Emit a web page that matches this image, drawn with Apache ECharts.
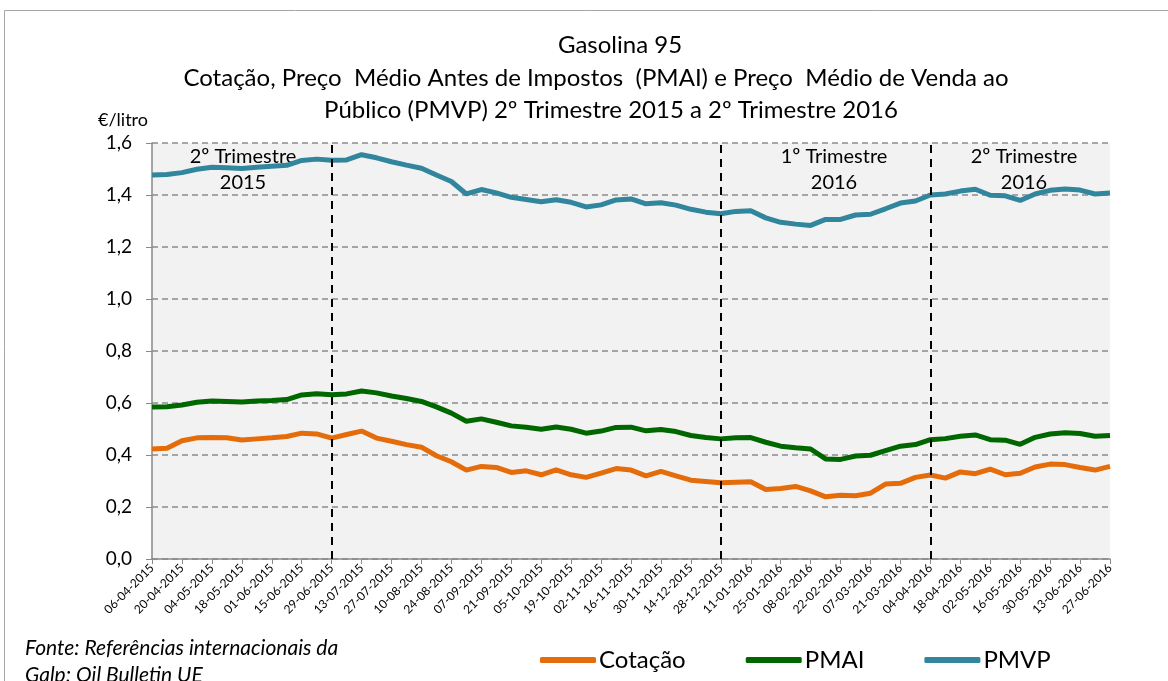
<!DOCTYPE html>
<html>
<head>
<meta charset="utf-8">
<script src="https://cdn.jsdelivr.net/npm/echarts@6/dist/echarts.min.js"></script>
<style>
  html, body { margin: 0; padding: 0; background: #fff; }
  #chart { width: 1168px; height: 681px; }
</style>
</head>
<body>
<div id="chart"></div>
<script>
// semanas (segunda-feira)
const datas = [
  '06-04-2015','13-04-2015','20-04-2015','27-04-2015','04-05-2015','11-05-2015','18-05-2015','25-05-2015',
  '01-06-2015','08-06-2015','15-06-2015','22-06-2015','29-06-2015','06-07-2015','13-07-2015','20-07-2015',
  '27-07-2015','03-08-2015','10-08-2015','17-08-2015','24-08-2015','31-08-2015','07-09-2015','14-09-2015',
  '21-09-2015','28-09-2015','05-10-2015','12-10-2015','19-10-2015','26-10-2015','02-11-2015','09-11-2015',
  '16-11-2015','23-11-2015','30-11-2015','07-12-2015','14-12-2015','21-12-2015','28-12-2015','04-01-2016',
  '11-01-2016','18-01-2016','25-01-2016','01-02-2016','08-02-2016','15-02-2016','22-02-2016','29-02-2016',
  '07-03-2016','14-03-2016','21-03-2016','28-03-2016','04-04-2016','11-04-2016','18-04-2016','25-04-2016',
  '02-05-2016','09-05-2016','16-05-2016','23-05-2016','30-05-2016','06-06-2016','13-06-2016','20-06-2016',
  '27-06-2016'
];

const cotacao = [
  0.423,0.426,0.455,0.466,0.467,0.466,0.458,0.462,0.466,0.471,0.484,0.481,0.465,0.479,0.492,0.465,
  0.453,0.440,0.430,0.397,0.374,0.342,0.356,0.352,0.333,0.339,0.324,0.343,0.324,0.314,0.330,0.348,
  0.342,0.320,0.337,0.320,0.303,0.298,0.293,0.295,0.297,0.267,0.271,0.279,0.262,0.239,0.245,0.243,
  0.253,0.288,0.291,0.314,0.323,0.311,0.335,0.328,0.346,0.324,0.330,0.354,0.365,0.363,0.352,0.342,
  0.356
];

const pmai = [
  0.585,0.586,0.592,0.603,0.608,0.606,0.604,0.608,0.610,0.613,0.631,0.636,0.632,0.635,0.646,0.639,
  0.627,0.617,0.606,0.585,0.561,0.530,0.539,0.526,0.512,0.507,0.499,0.508,0.499,0.484,0.492,0.506,
  0.507,0.493,0.498,0.490,0.475,0.467,0.462,0.466,0.467,0.449,0.434,0.428,0.423,0.385,0.383,0.396,
  0.399,0.417,0.434,0.440,0.459,0.463,0.472,0.477,0.459,0.457,0.441,0.468,0.481,0.486,0.483,0.472,
  0.475
];

const pmvp = [
  1.477,1.479,1.486,1.499,1.507,1.505,1.502,1.507,1.511,1.514,1.533,1.538,1.534,1.535,1.555,1.543,
  1.528,1.515,1.503,1.477,1.452,1.404,1.421,1.408,1.391,1.383,1.374,1.382,1.372,1.354,1.362,1.381,
  1.385,1.366,1.370,1.361,1.345,1.334,1.328,1.337,1.339,1.312,1.295,1.288,1.283,1.306,1.306,1.323,
  1.326,1.347,1.369,1.377,1.400,1.404,1.415,1.422,1.399,1.397,1.379,1.404,1.418,1.423,1.419,1.404,
  1.408
];

// inicio de cada trimestre (linhas verticais)
const inicioTrimestre = ['29-06-2015', '28-12-2015', '04-04-2016'];

const fonte = 'Lato, "Noto Sans", sans-serif';

const myChart = echarts.init(document.getElementById('chart'));

const txt = (text, x, y, size, extra) => ({
  type: 'text',
  x: x, y: y,
  style: Object.assign({
    text: text, fill: '#000', font: size + 'px ' + fonte,
    textAlign: 'center', textVerticalAlign: 'middle'
  }, extra || {})
});

const linha = (name, data, color) => ({
  name: name,
  type: 'line',
  data: data,
  symbol: 'none',
  lineStyle: { width: 5, color: color },
  itemStyle: { color: color }
});

const option = {
  animation: false,
  textStyle: { fontFamily: fonte },
  grid: {
    left: 152, right: 58, top: 143, bottom: 122,
    show: true, backgroundColor: '#f2f2f2', borderWidth: 0
  },
  xAxis: {
    type: 'category',
    data: datas,
    boundaryGap: false,
    axisLine: { lineStyle: { color: '#898989', width: 1.5 } },
    axisTick: { interval: 1, length: 5, lineStyle: { color: '#898989' } },
    axisLabel: { interval: 1, rotate: 45, fontSize: 12, color: '#000', margin: 7 }
  },
  yAxis: {
    type: 'value',
    min: 0, max: 1.6, interval: 0.2,
    axisLine: { show: true, lineStyle: { color: '#898989', width: 1.5 } },
    axisTick: { show: true, length: 6, lineStyle: { color: '#898989' } },
    axisLabel: {
      fontSize: 19, color: '#000', margin: 20,
      formatter: v => v.toFixed(1).replace('.', ',')
    },
    splitLine: { lineStyle: { color: '#8c8c8c', width: 1.5, type: [6, 4] } }
  },
  legend: {
    left: 535, top: 643,
    itemWidth: 56, itemHeight: 6, itemGap: 60,
    icon: 'roundRect',
    textStyle: { fontSize: 24, color: '#000', padding: [0, 0, 0, -2] },
    data: ['Cotação', 'PMAI', 'PMVP']
  },
  series: [
    linha('Cotação', cotacao, '#e46c0a'),
    linha('PMAI', pmai, '#006600'),
    Object.assign(linha('PMVP', pmvp, '#31859c'), {
      markLine: {
        silent: true,
        symbol: 'none',
        label: { show: false },
        lineStyle: { color: '#000', width: 2, type: [8, 6] },
        data: inicioTrimestre.map(d => ({ xAxis: d }))
      }
    })
  ],
  graphic: [
    { type: 'rect', shape: { x: 4.5, y: 10.5, width: 1300, height: 800 },
      style: { fill: 'none', stroke: '#a6a6a6', lineWidth: 1 } },
    txt('Gasolina 95', 620, 45, 24),
    txt('Cotação, Preço  Médio Antes de Impostos  (PMAI) e Preço  Médio de Venda ao', 596, 78, 24),
    txt('Público (PMVP) 2º Trimestre 2015 a 2º Trimestre 2016', 611, 110, 24),
    txt('€/litro', 123, 120, 18),
    txt('2º Trimestre', 243, 157, 20),
    txt('2015', 243, 183, 20),
    txt('1º Trimestre', 834, 157, 20),
    txt('2016', 834, 183, 20),
    txt('2º Trimestre', 1024, 157, 20),
    txt('2016', 1024, 183, 20),
    txt('Fonte: Referências internacionais da', 25, 648, 21, { textAlign: 'left', font: 'italic 21px ' + fonte }),
    txt('Galp; Oil Bulletin UE', 25, 675, 21, { textAlign: 'left', font: 'italic 21px ' + fonte })
  ]
};

option && myChart.setOption(option);
</script>
</body>
</html>
